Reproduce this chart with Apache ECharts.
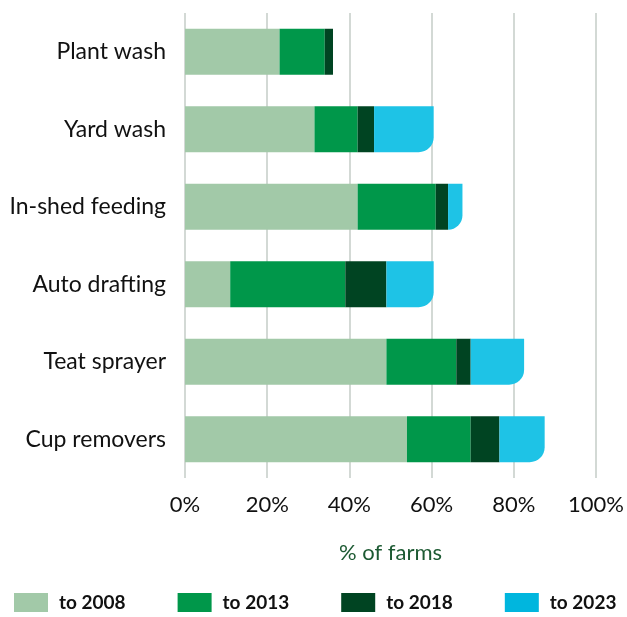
<!DOCTYPE html>
<html>
<head>
<meta charset="utf-8">
<script src="https://cdn.jsdelivr.net/npm/echarts@6/dist/echarts.min.js"></script>
<style>
  html, body { margin: 0; padding: 0; background: #ffffff; }
  #chart { width: 627px; height: 617px; }
</style>
</head>
<body>
<div id="chart"></div>
<script>
// Technology adoption on farms, cumulative by period
const categories = ['Plant wash', 'Yard wash', 'In-shed feeding', 'Auto drafting', 'Teat sprayer', 'Cup removers'];
const to2008 = [23, 31.5, 42, 11, 49, 54];
const to2013 = [11, 10.5, 19, 28, 17, 15.5];
const to2018 = [2, 4, 3, 10, 3.5, 7];
const to2023 = [null, 14.5, 3.5, 11.5, 13, 11];
const seriesNames = ['to 2008', 'to 2013', 'to 2018', 'to 2023'];
const xTicks = [0, 20, 40, 60, 80, 100];

const barColors = ['#a2c9a8', '#00974a', '#004422', '#1ec3e6'];
const legendColors = ['#a2c9a8', '#00974a', '#004422', '#00b6de'];
const FONT = 'Lato';

const chart = echarts.init(document.getElementById('chart'), null, { renderer: 'canvas' });

const valueSets = [to2008, to2013, to2018, to2023];
const series = valueSets.map((vals, i) => ({
  name: seriesNames[i],
  type: 'bar',
  stack: 'total',
  barWidth: 46,
  data: vals,
  itemStyle: {
    color: barColors[i],
    borderRadius: i === 3 ? [0, 0, 15, 0] : 0
  },
  emphasis: { disabled: true }
}));

chart.setOption({
  animation: false,
  textStyle: { fontFamily: FONT },
  grid: { left: 185, right: 30, top: 13, bottom: 139, containLabel: false },
  legend: {
    left: 14,
    top: 593,
    padding: 0,
    itemWidth: 34,
    itemHeight: 19,
    itemGap: 52,
    icon: 'rect',
    data: seriesNames.map((n, i) => ({ name: n, itemStyle: { color: legendColors[i] } })),
    textStyle: { fontFamily: FONT, fontSize: 19, fontWeight: 'bold', color: '#111111', padding: [0, 0, 0, 6] }
  },
  xAxis: {
    type: 'value',
    min: xTicks[0],
    max: xTicks[xTicks.length - 1],
    interval: 20,
    name: '% of farms',
    nameLocation: 'middle',
    nameGap: 64,
    nameTextStyle: { fontFamily: FONT, fontSize: 22, color: '#1d5a33' },
    axisLine: { show: false },
    axisTick: { show: false },
    axisLabel: {
      fontFamily: FONT, fontSize: 22, color: '#111111', margin: 16,
      formatter: v => v + '%'
    },
    splitLine: { show: true, lineStyle: { color: '#c5cdc7', width: 1.5 } }
  },
  yAxis: {
    type: 'category',
    data: categories,
    inverse: true,
    axisLine: { show: false },
    axisTick: { show: false },
    axisLabel: { fontFamily: FONT, fontSize: 23, color: '#111111', margin: 19 }
  },
  series: series
});
</script>
</body>
</html>
